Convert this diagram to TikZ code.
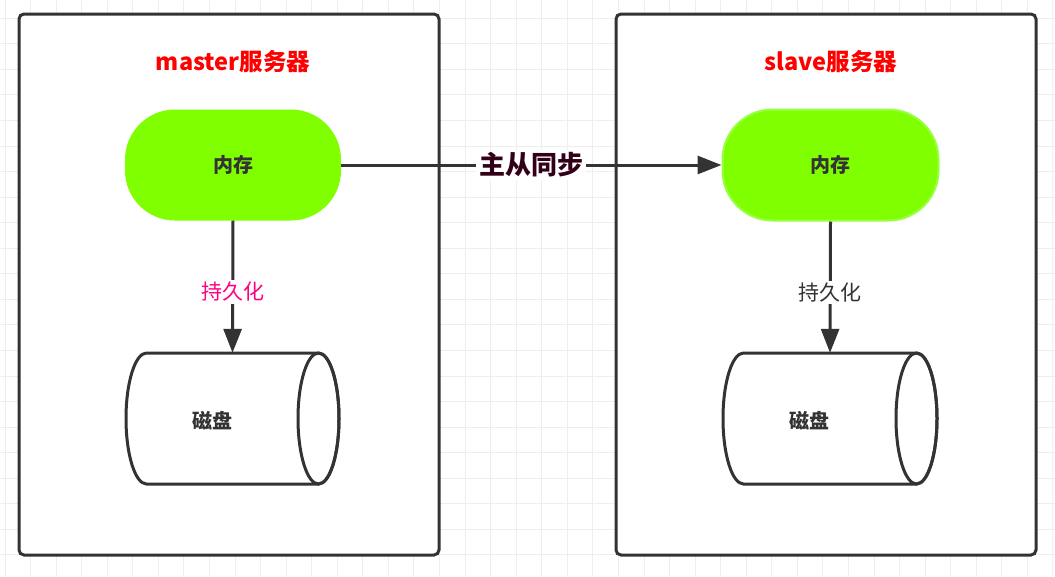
\documentclass[tikz,border=0pt]{standalone}
\usepackage{fontspec}
\newfontfamily\cjk{Noto Sans CJK SC}
\usetikzlibrary{arrows.meta}
\definecolor{gridc}{HTML}{EEEEEE}
\definecolor{dark}{HTML}{333333}
\definecolor{memgreen}{HTML}{80FF00}
\definecolor{memedge}{HTML}{99FF44}
\definecolor{syncc}{HTML}{33001A}
\definecolor{pinkc}{HTML}{FF0080}
\tikzset{
  server/.style={draw=dark, line width=3pt, rounded corners=5pt, fill=white},
  title/.style={font=\cjk\bfseries\fontsize{23.5}{27}\selectfont, text=red},
  mem/.style={fill=memgreen, rounded corners=50pt, minimum width=216pt, minimum height=111pt, font=\cjk\bfseries\fontsize{20}{24}\selectfont, text=dark},
  diskbox/.style={minimum width=213pt, minimum height=131pt, inner sep=0pt},
  disklabel/.style={font=\cjk\bfseries\fontsize{20}{24}\selectfont, text=dark},
  conn/.style={draw=dark, line width=3pt, -{Triangle[length=24pt,width=18pt]}},
  persist/.style={font=\cjk\fontsize{21}{25}\selectfont, fill=white, inner sep=2pt},
  cyl/.style={draw=dark, line width=3pt, fill=white}
}
\newcommand{\drawdisk}[4]{% x1 x2 y1 y2
  \pgfmathsetmacro{\rx}{20.5}
  \pgfmathsetmacro{\cy}{(#3+#4)/2}
  \pgfmathsetmacro{\ry}{(#4-#3)/2}
  \path[cyl] (#1+\rx,#3) -- (#2-\rx,#3) arc[start angle=90,end angle=-90,x radius=\rx,y radius=-\ry] -- (#1+\rx,#4) arc[start angle=-90,end angle=-270,x radius=\rx,y radius=-\ry] -- cycle;
  \draw[cyl,fill=none] (#2-\rx,\cy) ellipse[x radius=\rx,y radius=\ry];
}
\begin{document}
\begin{tikzpicture}[x=1pt,y=-1pt]
\useasboundingbox (0,0) rectangle (1055,576);
\fill[white] (0,0) rectangle (1055,576);
\foreach \i in {0,...,41} {\draw[gridc,line width=1pt] ({5+25.56*\i},0) -- ({5+25.56*\i},576);}
\foreach \j in {0,...,22} {\draw[gridc,line width=1pt] (0,{18.2+25.56*(\j-1)}) -- (1055,{18.2+25.56*(\j-1)});}

% server boxes
\draw[server] (19,14) rectangle (439,555);
\draw[server] (616,14) rectangle (1036,555);

\node[title] (t1) at (233,62) {master服务器};
\node[title] (t2) at (831,62) {slave服务器};

% memory
\node[mem] (m1) at (233,165) {内存};
\node[mem, draw=memedge, line width=2pt] (m2) at (830.5,165) {内存};

% disks
\drawdisk{126}{339}{353}{484}
\drawdisk{723}{937}{353}{484}
\node[diskbox] (d1) at (232.5,418.5) {};
\node[diskbox] (d2) at (830,418.5) {};
\node[disklabel] (l1) at (212,421) {磁盘};
\node[disklabel] (l2) at (809,421) {磁盘};

% connectors
\draw[conn] (m1.east) -- node[fill=white, inner sep=3pt, font=\cjk\bfseries\fontsize{26}{30}\selectfont, text=syncc] (sync) {主从同步} (m2.west);
\draw[conn] (m1.south) -- node[persist, text=pinkc, pos=0.54] (p1) {持久化} (d1.north);
\draw[conn] (m2.south) -- node[persist, text=dark, pos=0.54] (p2) {持久化} (d2.north);
\end{tikzpicture}
\end{document}
